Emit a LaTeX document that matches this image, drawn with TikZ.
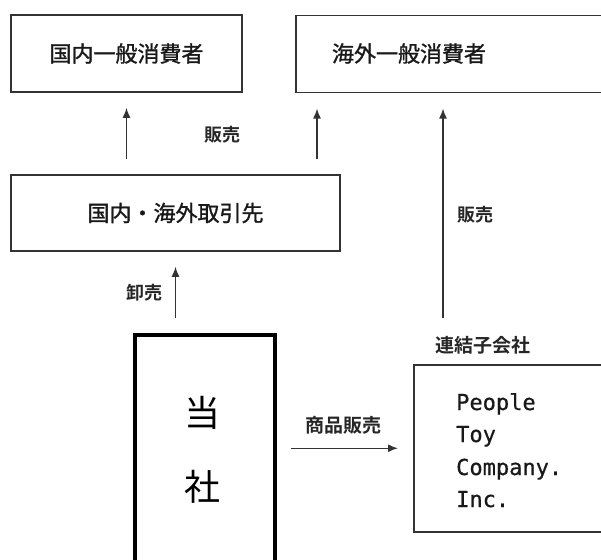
\documentclass[tikz,border=0pt]{standalone}
\usepackage{fontspec}
\newfontfamily\jp{Noto Sans CJK JP}
\newfontfamily\jpm{Noto Sans CJK JP}[FakeBold=1.3]
\newfontfamily\jpb{Noto Sans CJK JP Bold}
\newfontfamily\mono{DejaVu Sans Mono}[FakeBold=0.6]
\usetikzlibrary{arrows.meta}
\tikzset{
  box/.style={draw=black!80, line width=1.5pt, rectangle, inner sep=0pt},
  thickbox/.style={draw=black, line width=4pt, rectangle, inner sep=0pt},
  title/.style={font=\jpm\fontsize{22}{26}\selectfont, text=black!90, inner sep=0pt},
  big/.style={font=\jp\fontsize{36}{40}\selectfont, inner sep=0pt},
  lbl/.style={font=\jpb\fontsize{18}{20}\selectfont, text=black!85, inner sep=0pt},
  lblw/.style={font=\jpb\fontsize{19}{21}\selectfont, text=black!85, inner sep=0pt},
  monot/.style={font=\mono\fontsize{22}{24}\selectfont, text=black!90, inner sep=0pt, anchor=base west},
  arr/.style={draw=black!80, line width=1.5pt, -{Latex[length=10pt,width=8pt]}},
}
\begin{document}
\begin{tikzpicture}[x=1pt,y=-1pt]
\useasboundingbox (0,0) rectangle (601,559);
\clip (0,0) rectangle (601,559);
% boxes
\node[box, minimum width=231pt, minimum height=77pt] (n1) at (126.5,53.5) {};
\node[title] (t1) at (n1) {国内一般消費者};
\node[box, minimum width=330pt, minimum height=77pt, anchor=north west] (n2) at (295,15) {};
\node[title] (t2) at (409,53.5) {海外一般消費者};
\node[box, minimum width=329pt, minimum height=76pt] (n3) at (175.5,213) {};
\node[title] (t3) at (n3) {国内・海外取引先};
\node[thickbox, minimum width=140pt, minimum height=300pt, anchor=north west] (n4) at (133,333) {};
\node[big] (t4a) at (202,413) {当};
\node[big] (t4b) at (202,487) {社};
\node[box, minimum width=230pt, minimum height=167pt, anchor=north west] (n5) at (413,364) {};
\node[monot] (p1) at (456,410) {People};
\node[monot] (p2) at (456,442) {Toy};
\node[monot] (p3) at (456,475) {Company.};
\node[monot] (p4) at (456,507) {Inc.};
% labels
\node[lbl] (l1) at (222,135) {販売};
\node[lbl] (l2) at (475,215) {販売};
\node[lbl] (l3) at (144,293) {卸売};
\node[lblw] (l4) at (343,425) {商品販売};
\node[lblw] (l5) at (483,345) {連結子会社};
% anchor coordinates
\coordinate (c2) at ([xshift=22pt]n2.south west);
\coordinate (c3) at ([xshift=148pt]n2.south west);
% arrows
\draw[arr, shorten <=15pt, shorten >=15pt] (n3.north -| n1.south) -- (n1.south);
\draw[arr, shorten <=15pt, shorten >=15pt] (n3.north -| c2) -- (c2);
\draw[arr, shorten <=18pt, shorten >=15pt] (l5.north -| c3) -- (c3);
\draw[arr, shorten <=15pt, shorten >=15pt] (n4.north -| n3.south) -- (n3.south);
\draw[arr, shorten <=14pt, shorten >=15pt] (n4.east |- n5.west) -- (n5.west);
\end{tikzpicture}
\end{document}
